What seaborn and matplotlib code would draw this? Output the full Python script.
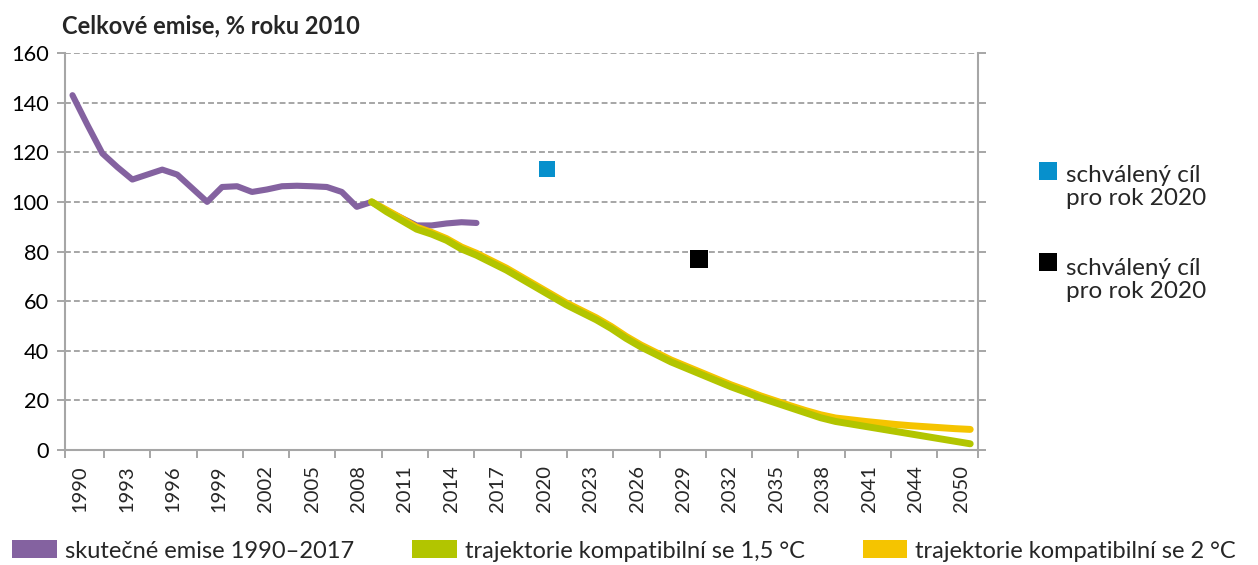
import numpy as np
import pandas as pd
import seaborn as sns
import matplotlib.pyplot as plt
from matplotlib.patches import Rectangle

# --- data ---
actual_years = list(range(1990, 2018))
actual_vals = [143, 131, 119.5, 114, 109, 111, 113, 111, 105.5, 100,
               106, 106.3, 104, 105, 106.3, 106.5, 106.3, 106, 104, 98,
               100, 96.5, 93.5, 90.5, 90.5, 91.3, 91.8, 91.5]

traj_years = list(range(2010, 2051))
traj_15 = [100, 96, 92.5, 89, 87, 84.5, 81, 78.5, 75.5, 72.5,
           69, 65.5, 62, 58.5, 55.5, 52.5, 49, 45, 41.5, 38.5,
           35.5, 33, 30.5, 28, 25.5, 23.3, 21, 19, 17, 15,
           13, 11.5, 10.5, 9.5, 8.5, 7.5, 6.5, 5.5, 4.5, 3.5, 2.5]
traj_2 = [100, 96.7, 93.3, 89.8, 87.7, 85.2, 81.8, 79.3, 76.3, 73.3,
          69.8, 66.3, 62.8, 59.3, 56.3, 53.3, 49.8, 45.8, 42.3, 39.3,
          36.3, 33.8, 31.3, 28.8, 26.3, 24.1, 21.8, 19.8, 17.8, 15.9,
          14.2, 12.9, 12.2, 11.5, 10.9, 10.3, 9.8, 9.4, 9.0, 8.6, 8.3]

# approved targets (x position as it sits on the year axis)
target_x = [2021.7, 2031.9]
target_vals = [113.4, 77.1]
target_colors = ['#0790CC', '#000000']
target_sizes = [130, 165]

tick_labels = ['1990', '1993', '1996', '1999', '2002', '2005', '2008', '2011',
               '2014', '2017', '2020', '2023', '2026', '2029', '2032', '2035',
               '2038', '2041', '2044', '2050']

PURPLE = '#8462A0'
GREEN = '#B2C500'
YELLOW = '#F5C400'
GRAY = '#A6A6A6'

sns.set_theme(style="white")
plt.rcParams['font.family'] = ['Lato', 'DejaVu Sans']

fig = plt.figure(figsize=(12.58, 5.65), dpi=100)
ax = fig.add_axes([65 / 1258, 1 - 450 / 565, (977.7 - 65) / 1258, (450 - 53) / 565])

df_act = pd.DataFrame({'year': actual_years, 'val': actual_vals})
df_15 = pd.DataFrame({'year': traj_years, 'val': traj_15})
df_2 = pd.DataFrame({'year': traj_years, 'val': traj_2})

line_kw = dict(solid_capstyle='round', solid_joinstyle='round')
sns.lineplot(data=df_act, x='year', y='val', color=PURPLE, lw=4.4, ax=ax, zorder=3, **line_kw)
sns.lineplot(data=df_2, x='year', y='val', color=YELLOW, lw=5.0, ax=ax, zorder=4, **line_kw)
sns.lineplot(data=df_15, x='year', y='val', color=GREEN, lw=5.0, ax=ax, zorder=5, **line_kw)

df_t = pd.DataFrame({'x': target_x, 'y': target_vals, 'k': ['a', 'b']})
sns.scatterplot(data=df_t, x='x', y='y', hue='k', size='k',
                palette=dict(zip(['a', 'b'], target_colors)),
                sizes=dict(zip(['a', 'b'], target_sizes)),
                marker='s', linewidth=0, legend=False, ax=ax, zorder=6)

ax.set_xlim(1989.5, 2050.5)
ax.set_ylim(0, 160)
ax.set_xlabel('')
ax.set_ylabel('')

# y axis
ax.set_yticks(range(0, 161, 20))
ax.yaxis.grid(True, color=GRAY, lw=1.4, linestyle=(0, (3, 1.6)))
ax.set_axisbelow(True)
ax.tick_params(axis='y', which='major', left=True, right=True, direction='out',
               length=5.8, width=1.4, color=GRAY, pad=5.5, labelsize=15.7,
               labelcolor='black')

# x axis: labels evenly along the axis, tick marks between them
label_pos = np.linspace(1990.5, 2049.45, len(tick_labels))
mark_pos = np.concatenate([[1989.5], np.linspace(1992.1, 2047.8, 19), [2050.5]])
ax.set_xticks(label_pos)
ax.set_xticklabels(tick_labels, rotation=90, fontsize=14.5)
ax.set_xticks(mark_pos, minor=True)
ax.tick_params(axis='x', which='major', length=0, pad=11)
ax.tick_params(axis='x', which='minor', bottom=True, direction='out',
               length=5.8, width=1.4, color=GRAY)

for side in ['left', 'bottom', 'right']:
    ax.spines[side].set_visible(True)
    ax.spines[side].set_color(GRAY)
    ax.spines[side].set_linewidth(1.5)
ax.spines['top'].set_visible(False)

# title
fig.text(62 / 1258, 1 - 26 / 565, 'Celkové emise, % roku 2010', fontsize=17,
         fontweight='bold', ha='left', va='center')

# right-hand legend for the targets
for c, yc, ytxt in zip(target_colors, [171, 262], [187, 280]):
    sq = 18
    fig.add_artist(Rectangle(((1048 - sq / 2) / 1258, 1 - (yc + sq / 2) / 565),
                             sq / 1258, sq / 565, transform=fig.transFigure,
                             color=c, lw=0))
    fig.text(1066 / 1258, 1 - ytxt / 565, 'schválený cíl\npro rok 2020',
             fontsize=17.5, ha='left', va='center', linespacing=1.1)

# bottom legend
handles = [Rectangle((0, 0), 1, 1, color=c, lw=0) for c in [PURPLE, GREEN, YELLOW]]
labels = ['skutečné emise 1990–2017', 'trajektorie kompatibilní se 1,5 °C',
          'trajektorie kompatibilní se 2 °C']
fig.legend(handles, labels, loc='center left', bbox_to_anchor=(12 / 1258, 1 - 551 / 565),
           ncol=3, frameon=False, fontsize=17, handlelength=1.9, handleheight=0.8,
           handletextpad=0.34, columnspacing=2.45, borderpad=0, borderaxespad=0)

fig.savefig('out.png', dpi=100)
